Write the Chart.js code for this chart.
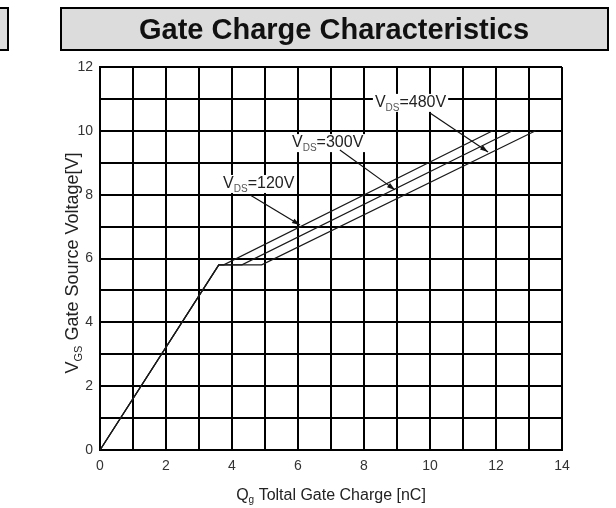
<!DOCTYPE html>
<html>
<head>
<meta charset="utf-8">
<script src="https://cdn.jsdelivr.net/npm/chart.js@4.4.1/dist/chart.umd.min.js"></script>
<style>
  html, body { margin: 0; padding: 0; background: #fff; }
  canvas { display: block; }
</style>
</head>
<body>
<canvas id="c" width="616" height="508"></canvas>
<script>
// ---- Data ----
const seriesNames = ['VDS=120V', 'VDS=300V', 'VDS=480V'];
const qg120  = [0, 3.6, 3.75, 11.9];
const vgs120 = [0, 5.8, 5.8, 10.0];
const qg300  = [0, 3.6, 4.3, 12.5];
const vgs300 = [0, 5.8, 5.8, 10.0];
const qg480  = [0, 3.6, 4.9, 13.2];
const vgs480 = [0, 5.8, 5.8, 10.0];
const xTickLabels = [0, 2, 4, 6, 8, 10, 12, 14];
const yTickLabels = [0, 2, 4, 6, 8, 10, 12];

const chartTitle = 'Gate Charge Characteristics';

// annotation labels (anchor in data units)
const labels = [
  { val: '=120V', tx: 3.73, ty: 8.21, ax: 4.55, ay: 7.99, bx: 6.06, by: 7.05 },
  { val: '=300V', tx: 5.82, ty: 9.49, ax: 7.27, ay: 9.40, bx: 8.94, by: 8.15 },
  { val: '=480V', tx: 8.33, ty: 10.75, ax: 10.0, ay: 10.56, bx: 11.76, by: 9.34 }
];

const toPts = (xs, ys) => xs.map((x, i) => ({ x: x, y: ys[i] }));

const FONT = '"Liberation Sans", Arial, sans-serif';

const frame = {
  id: 'frame',
  beforeDraw(chart) {
    const ctx = chart.ctx;
    ctx.save();
    ctx.fillStyle = '#fff';
    ctx.fillRect(0, 0, chart.width, chart.height);
    // partial box of neighbouring chart
    ctx.fillStyle = '#dcdcdc';
    ctx.strokeStyle = '#000';
    ctx.lineWidth = 2;
    ctx.fillRect(-4, 8, 12, 42);
    ctx.strokeRect(-4, 8, 12, 42);
    // title box
    ctx.fillRect(61, 8, 547, 42);
    ctx.strokeRect(61, 8, 547, 42);
    ctx.fillStyle = '#111';
    ctx.font = 'bold 29px ' + FONT;
    ctx.textAlign = 'center';
    ctx.textBaseline = 'alphabetic';
    ctx.fillText(chartTitle, 334, 39);
    ctx.restore();
  },
  afterDraw(chart) {
    const ctx = chart.ctx;
    ctx.save();
    ctx.fillStyle = '#222';
    ctx.textBaseline = 'alphabetic';
    ctx.textAlign = 'left';
    // x axis title
    const area = chart.chartArea;
    {
      const size = 16, sub = 10;
      ctx.font = size + 'px ' + FONT;
      const w1 = ctx.measureText('Q').width;
      const w3 = ctx.measureText(' Toltal Gate Charge [nC]').width;
      ctx.font = sub + 'px ' + FONT;
      const w2 = ctx.measureText('g').width;
      const total = w1 + w2 + w3;
      let x = (area.left + area.right) / 2 - total / 2;
      const base = 500;
      ctx.font = size + 'px ' + FONT;
      ctx.fillText('Q', x, base); x += w1;
      ctx.font = sub + 'px ' + FONT;
      ctx.fillText('g', x, base + 3); x += w2;
      ctx.font = size + 'px ' + FONT;
      ctx.fillText(' Toltal Gate Charge [nC]', x, base);
    }
    // y axis title (rotated)
    {
      const size = 18, sub = 11;
      ctx.translate(78, 263);
      ctx.rotate(-Math.PI / 2);
      ctx.font = size + 'px ' + FONT;
      const w1 = ctx.measureText('V').width;
      const w3 = ctx.measureText(' Gate Source Voltage[V]').width;
      ctx.font = sub + 'px ' + FONT;
      const w2 = ctx.measureText('GS').width;
      const total = w1 + w2 + w3;
      let x = -total / 2;
      ctx.font = size + 'px ' + FONT;
      ctx.fillText('V', x, 0); x += w1;
      ctx.font = sub + 'px ' + FONT;
      ctx.fillText('GS', x, 4); x += w2;
      ctx.font = size + 'px ' + FONT;
      ctx.fillText(' Gate Source Voltage[V]', x, 0);
    }
    ctx.restore();
  },
  afterDatasetsDraw(chart) {
    const ctx = chart.ctx;
    const xs = chart.scales.x, ys = chart.scales.y;
    ctx.save();
    labels.forEach(l => {
      const size = 16, sub = 10;
      const x0 = xs.getPixelForValue(l.tx);
      const base = ys.getPixelForValue(l.ty);
      ctx.font = size + 'px ' + FONT;
      const w1 = ctx.measureText('V').width;
      const w3 = ctx.measureText(l.val).width;
      ctx.font = sub + 'px ' + FONT;
      const w2 = ctx.measureText('DS').width;
      // white background
      ctx.fillStyle = '#fff';
      ctx.fillRect(x0 - 2, base - 13, w1 + w2 + w3 + 4, 18);
      ctx.fillStyle = '#222';
      ctx.textAlign = 'left';
      ctx.textBaseline = 'alphabetic';
      let x = x0;
      ctx.font = size + 'px ' + FONT;
      ctx.fillText('V', x, base); x += w1;
      ctx.font = sub + 'px ' + FONT;
      ctx.fillStyle = '#555';
      ctx.fillText('DS', x, base + 4); x += w2;
      ctx.fillStyle = '#222';
      ctx.font = size + 'px ' + FONT;
      ctx.fillText(l.val, x, base);
      // arrow
      const ax = xs.getPixelForValue(l.ax), ay = ys.getPixelForValue(l.ay);
      const bx = xs.getPixelForValue(l.bx), by = ys.getPixelForValue(l.by);
      ctx.strokeStyle = '#111';
      ctx.lineWidth = 1.2;
      ctx.beginPath();
      ctx.moveTo(ax, ay);
      ctx.lineTo(bx, by);
      ctx.stroke();
      const ang = Math.atan2(by - ay, bx - ax);
      const len = 8, half = 2.6;
      ctx.fillStyle = '#111';
      ctx.beginPath();
      ctx.moveTo(bx, by);
      ctx.lineTo(bx - len * Math.cos(ang) + half * Math.sin(ang), by - len * Math.sin(ang) - half * Math.cos(ang));
      ctx.lineTo(bx - len * Math.cos(ang) - half * Math.sin(ang), by - len * Math.sin(ang) + half * Math.cos(ang));
      ctx.closePath();
      ctx.fill();
    });
    ctx.restore();
  }
};

const lineStyle = { borderColor: '#1a1a1a', borderWidth: 1.2, pointRadius: 0, showLine: true, fill: false, tension: 0 };

new Chart(document.getElementById('c'), {
  type: 'scatter',
  data: {
    datasets: [
      Object.assign({ label: seriesNames[0], data: toPts(qg120, vgs120) }, lineStyle),
      Object.assign({ label: seriesNames[1], data: toPts(qg300, vgs300) }, lineStyle),
      Object.assign({ label: seriesNames[2], data: toPts(qg480, vgs480) }, lineStyle)
    ]
  },
  options: {
    responsive: false,
    animation: false,
    devicePixelRatio: 1,
    layout: { padding: { top: 67, right: 54, left: 0, bottom: 0 } },
    plugins: { legend: { display: false }, tooltip: { enabled: false }, title: { display: false } },
    scales: {
      x: {
        type: 'linear', min: 0, max: 14,
        afterFit: s => { s.height = 58; },
        grid: { color: '#000', lineWidth: 2, drawTicks: false },
        border: { color: '#000', width: 2 },
        ticks: {
          stepSize: 1, autoSkip: false, maxRotation: 0, padding: 8,
          color: '#333', font: { family: FONT, size: 14 },
          callback: v => xTickLabels.includes(v) ? String(v) : ''
        }
      },
      y: {
        type: 'linear', min: 0, max: 12,
        afterFit: s => { s.width = 100; },
        grid: { color: '#000', lineWidth: 2, drawTicks: false },
        border: { color: '#000', width: 2 },
        ticks: {
          stepSize: 1, autoSkip: false, padding: 7,
          color: '#333', font: { family: FONT, size: 14 },
          callback: v => yTickLabels.includes(v) ? String(v) : ''
        }
      }
    }
  },
  plugins: [frame]
});
</script>
</body>
</html>
